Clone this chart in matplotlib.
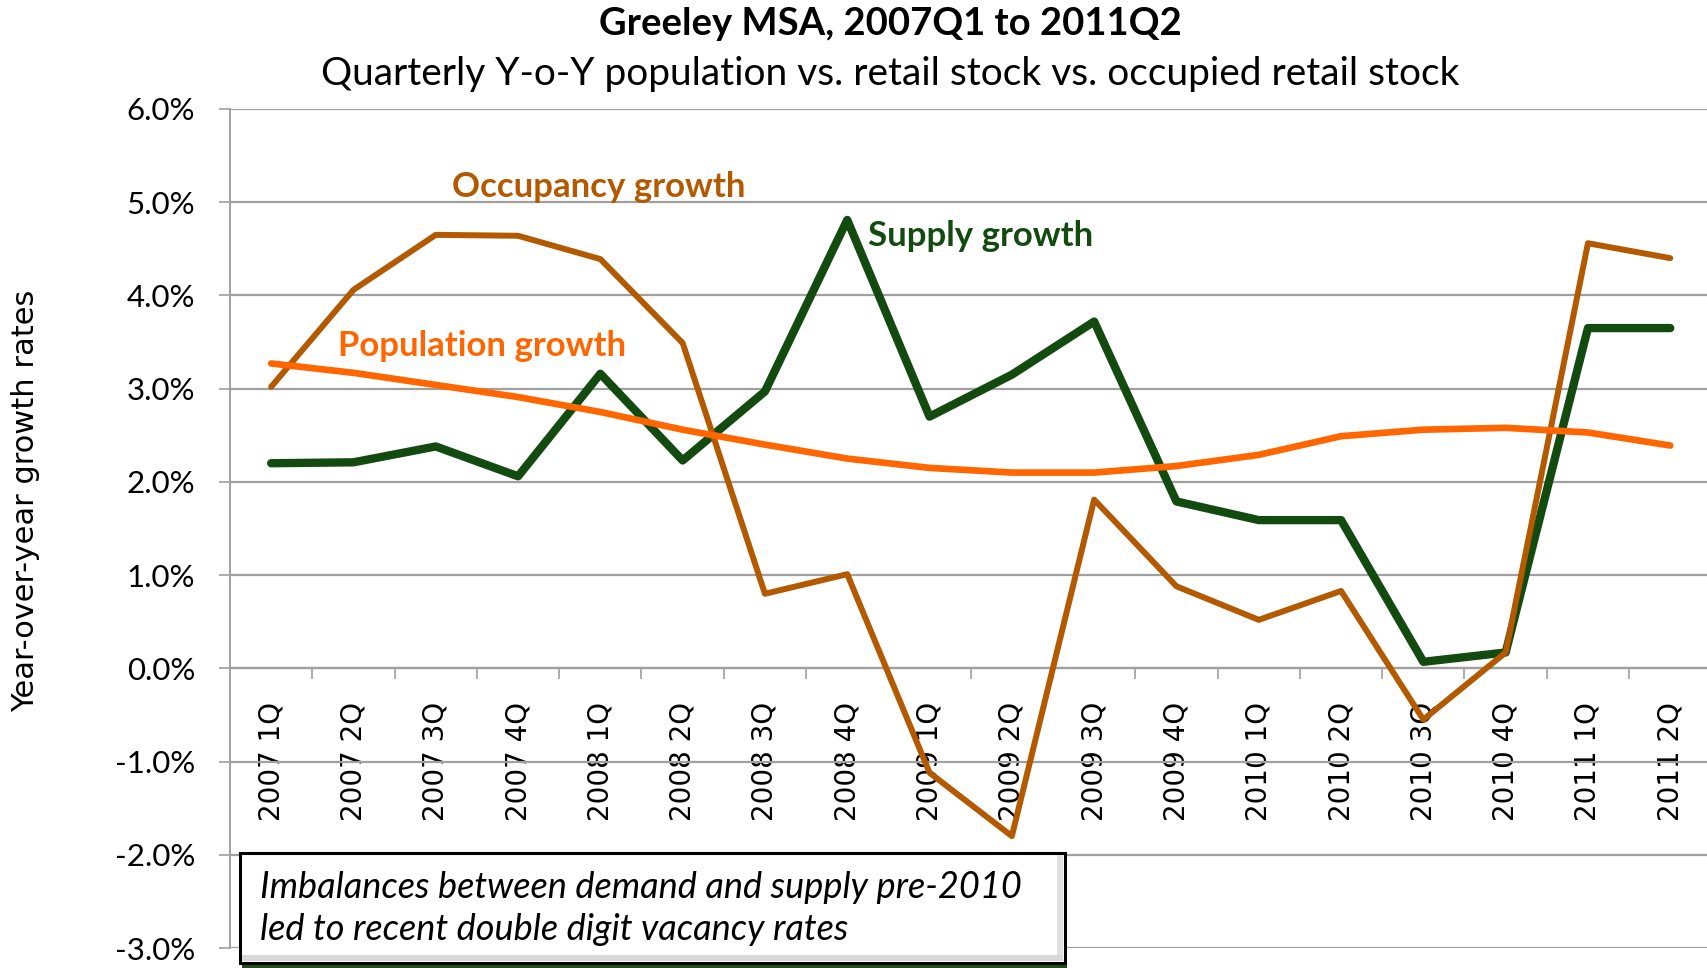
import matplotlib
matplotlib.use("Agg")
import matplotlib.pyplot as plt
from matplotlib.patches import Rectangle
from matplotlib.ticker import FuncFormatter, FixedLocator

quarters = ["2007 1Q", "2007 2Q", "2007 3Q", "2007 4Q", "2008 1Q", "2008 2Q",
            "2008 3Q", "2008 4Q", "2009 1Q", "2009 2Q", "2009 3Q", "2009 4Q",
            "2010 1Q", "2010 2Q", "2010 3Q", "2010 4Q", "2011 1Q", "2011 2Q"]
population = [3.27, 3.17, 3.04, 2.91, 2.75, 2.56, 2.40, 2.25, 2.15, 2.10,
              2.10, 2.17, 2.29, 2.49, 2.56, 2.58, 2.53, 2.39]
supply = [2.20, 2.21, 2.38, 2.06, 3.16, 2.23, 2.97, 4.81, 2.70, 3.15,
          3.72, 1.79, 1.59, 1.59, 0.07, 0.17, 3.65, 3.65]
occupancy = [3.02, 4.06, 4.65, 4.64, 4.39, 3.49, 0.80, 1.01, -1.12, -1.80,
             1.81, 0.88, 0.52, 0.83, -0.55, 0.17, 4.56, 4.40]
y_ticks = [-3, -2, -1, 0, 1, 2, 3, 4, 5, 6]

W, H = 1708, 968
fig = plt.figure(figsize=(W / 100, H / 100), dpi=100)

def fx(px):
    return px / W

def fy(py):
    return 1 - py / H

left, right, top, bottom = 230, 1711.4, 109, 948
ax = fig.add_axes([fx(left), fy(bottom), (right - left) / W, (bottom - top) / H])

C_POP = "#FF6600"
C_SUP = "#134A10"
C_OCC = "#B35900"
GRID = "#A0A0A0"

x = list(range(len(quarters)))
ax.plot(x, supply, color=C_SUP, lw=6.0, solid_capstyle="round", solid_joinstyle="round", zorder=3)
ax.plot(x, occupancy, color=C_OCC, lw=4.3, solid_capstyle="round", solid_joinstyle="round", zorder=4)
ax.plot(x, population, color=C_POP, lw=4.8, solid_capstyle="round", solid_joinstyle="round", zorder=5)

ax.set_xlim(-0.5, len(quarters) - 0.5)
ax.set_ylim(y_ticks[0], y_ticks[-1])

ax.set_yticks(y_ticks)
ax.yaxis.set_major_formatter(FuncFormatter(lambda v, p: f"{v:.1f}%"))
ax.grid(axis="y", color=GRID, lw=1.6, zorder=1)
ax.set_axisbelow(True)

for lab in ax.get_yticklabels():
    lab.set_fontfamily("Lato")
    lab.set_fontsize(22.5)
ax.tick_params(axis="y", direction="out", length=8, width=1.2, color=GRID, pad=17)

ax.spines["top"].set_visible(False)
ax.spines["right"].set_visible(False)
ax.spines["left"].set_color(GRID)
ax.spines["left"].set_linewidth(1.4)
ax.spines["bottom"].set_position(("data", 0))
ax.spines["bottom"].set_color(GRID)
ax.spines["bottom"].set_linewidth(1.6)

ax.set_xticks(x)
ax.set_xticklabels(quarters, rotation=90, fontfamily="DejaVu Sans", fontsize=20)
ax.xaxis.set_minor_locator(FixedLocator([i + 0.5 for i in range(len(quarters))]))
ax.tick_params(axis="x", which="major", length=0, pad=24)
ax.tick_params(axis="x", which="minor", direction="out", length=8, width=1.2, color=GRID)

fig.text(fx(26), fy(501), "Year-over-year growth rates", rotation=90,
         ha="center", va="center", fontsize=22, fontfamily="DejaVu Sans")

fig.text(fx(890), fy(24), "Greeley MSA, 2007Q1 to 2011Q2", ha="center", va="center",
         fontsize=27.5, fontweight="bold", fontfamily="Lato")
fig.text(fx(890), fy(74), "Quarterly Y-o-Y population vs. retail stock vs. occupied retail stock",
         ha="center", va="center", fontsize=28, fontfamily="Lato")

fig.text(fx(452), fy(187), "Occupancy growth", ha="left", va="center",
         fontsize=25, fontweight="bold", fontfamily="Lato", color=C_OCC)
fig.text(fx(868), fy(236), "Supply growth", ha="left", va="center",
         fontsize=25, fontweight="bold", fontfamily="Lato", color=C_SUP)
fig.text(fx(338), fy(346), "Population growth", ha="left", va="center",
         fontsize=25, fontweight="bold", fontfamily="Lato", color=C_POP)

# annotation box (figure pixel coords)
bx0, by0, bx1, by1 = 240, 853, 1065, 963
fig.patches.append(Rectangle((fx(bx0 + 2), fy(by1 + 6)), (bx1 - bx0) / W, 8 / H,
                             transform=fig.transFigure, facecolor="#1E4D18",
                             edgecolor="none", zorder=9))
fig.patches.append(Rectangle((fx(bx0), fy(by1)), (bx1 - bx0) / W, (by1 - by0) / H,
                             transform=fig.transFigure, facecolor="white",
                             edgecolor="black", lw=2.2, zorder=10))
# bevel shading
fig.patches.append(Rectangle((fx(bx1 - 8), fy(by1 - 2)), 6 / W, (by1 - by0 - 4) / H,
                             transform=fig.transFigure, facecolor="#E0E0E0",
                             edgecolor="none", zorder=11))
fig.patches.append(Rectangle((fx(bx0 + 2), fy(by1 - 2)), (bx1 - bx0 - 4) / W, 6 / H,
                             transform=fig.transFigure, facecolor="#D8D8D8",
                             edgecolor="none", zorder=11))
fig.text(fx(260), fy(898), "Imbalances between demand and supply pre-2010",
         ha="left", va="baseline", fontsize=26, fontstyle="italic", fontfamily="Lato", zorder=12)
fig.text(fx(260), fy(940), "led to recent double digit vacancy rates",
         ha="left", va="baseline", fontsize=26, fontstyle="italic", fontfamily="Lato", zorder=12)

fig.savefig("out.png", dpi=100)
